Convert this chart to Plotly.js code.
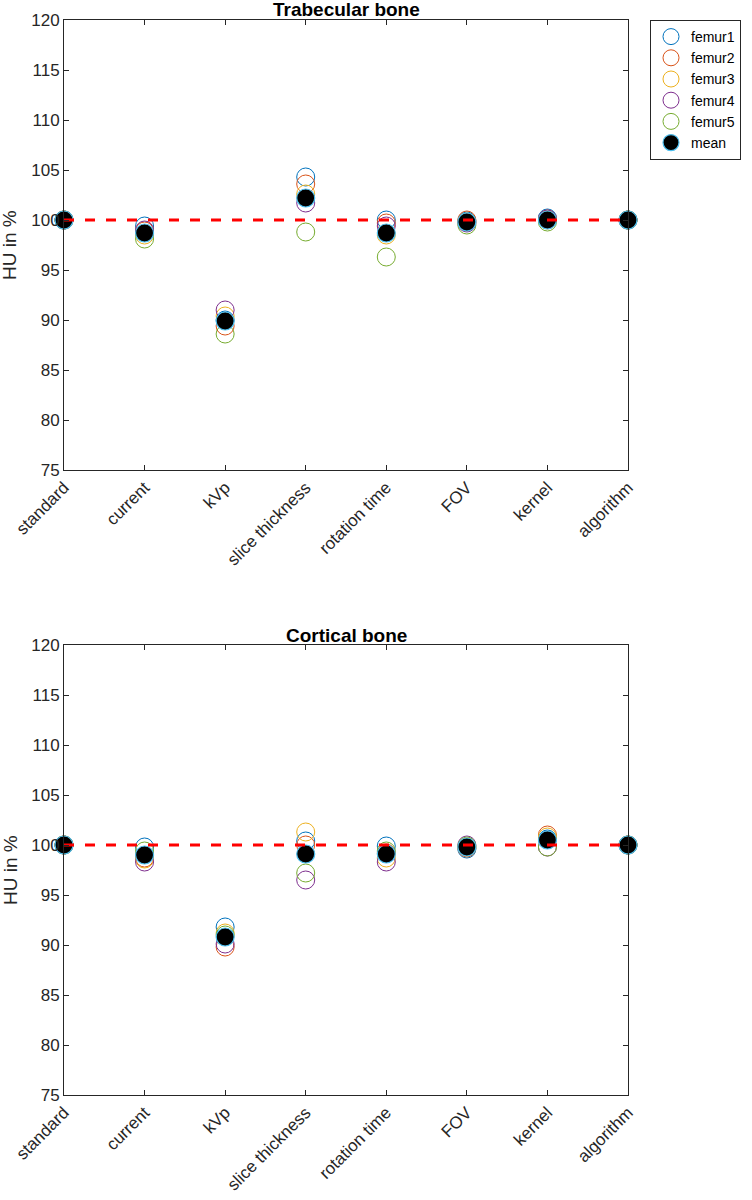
<!DOCTYPE html>
<html>
<head>
<meta charset="utf-8">
<script src="https://cdn.plot.ly/plotly-3.0.1.min.js"></script>
<style>html,body{margin:0;padding:0;background:#fff;}#chart{width:752px;height:1200px;}</style>
</head>
<body>
<div id="chart"></div>
<script>
const categories = ["standard","current","kVp","slice thickness","rotation time","FOV","kernel","algorithm"];
const seriesNames = ["femur1","femur2","femur3","femur4","femur5"];
const seriesColors = ["#0072BD","#D95319","#EDB120","#7E2F8E","#77AC30"];

// Trabecular bone (top)
const trabFemur1 = [100, 99.4, 90.0, 104.3, 100.0, 99.9, 100.2, 100];
const trabFemur2 = [100, 98.9, 89.4, 103.6, 99.7, 100.0, 100.1, 100];
const trabFemur3 = [100, 98.5, 90.4, 102.6, 98.5, 99.8, 100.0, 100];
const trabFemur4 = [100, 99.0, 91.0, 101.7, 99.4, 99.7, 100.1, 100];
const trabFemur5 = [100, 98.1, 88.6, 98.8, 96.3, 99.5, 99.8, 100];
const trabMean   = [100, 98.7, 89.9, 102.2, 98.7, 99.8, 100.0, 100];

// Cortical bone (bottom)
const cortFemur1 = [100, 99.8, 91.8, 100.4, 99.9, 99.6, 100.6, 100];
const cortFemur2 = [100, 98.7, 89.8, 100.0, 99.2, 99.7, 101.0, 100];
const cortFemur3 = [100, 98.6, 91.2, 101.3, 98.7, 99.8, 100.8, 100];
const cortFemur4 = [100, 98.3, 90.1, 96.5, 98.3, 100.0, 99.8, 100];
const cortFemur5 = [100, 99.4, 91.0, 97.2, 99.4, 99.9, 99.8, 100];
const cortMean   = [100, 99.0, 90.8, 99.1, 99.1, 99.8, 100.5, 100];

const referenceLevel = [100, 100];
const yTicks = [75,80,85,90,95,100,105,110,115,120];

const W = 752, H = 1200;
const xIdx = categories.map((c,i)=>i+1);
const FONT = "Liberation Sans, Arial, Helvetica, sans-serif";

const topSeries = [trabFemur1,trabFemur2,trabFemur3,trabFemur4,trabFemur5];
const botSeries = [cortFemur1,cortFemur2,cortFemur3,cortFemur4,cortFemur5];

const traces = [];
function addPanel(series, mean, xa, ya, showLeg) {
  series.forEach((vals, k) => {
    traces.push({
      type: "scatter", mode: "markers", x: xIdx, y: vals, xaxis: xa, yaxis: ya,
      name: seriesNames[k], showlegend: showLeg, cliponaxis: false,
      marker: {symbol: "circle-open", size: 18, color: seriesColors[k], line: {width: 1, color: seriesColors[k]}},
      hoverinfo: "x+y"
    });
  });
  traces.push({
    type: "scatter", mode: "markers", x: xIdx, y: mean, xaxis: xa, yaxis: ya,
    name: "mean", showlegend: showLeg, cliponaxis: false,
    marker: {symbol: "circle", size: 18, color: "#000000", line: {width: 1.2, color: "#4DBEEE"}}
  });
  traces.push({
    type: "scatter", mode: "lines", x: [1, categories.length], y: referenceLevel, xaxis: xa, yaxis: ya,
    showlegend: false, cliponaxis: false, hoverinfo: "skip",
    line: {color: "#FF0000", width: 3, dash: "10px,11px"}
  });
}
addPanel(topSeries, trabMean, "x", "y", true);
addPanel(botSeries, cortMean, "x2", "y2", false);

const px = v => v / W;
const py = v => 1 - v / H;

function xAxis(anchor) {
  return {
    domain: [px(64), px(628)], anchor: anchor, range: [1, categories.length],
    tickmode: "array", tickvals: xIdx, ticktext: categories, tickangle: -45,
    ticks: "inside", ticklen: 5, tickwidth: 1, tickcolor: "#262626",
    showline: true, linecolor: "#262626", linewidth: 1, mirror: "ticks",
    showgrid: false, zeroline: false,
    tickfont: {family: FONT, size: 17, color: "#262626"}
  };
}
function yAxis(anchor, top, bottom) {
  return {
    domain: [py(bottom), py(top)], anchor: anchor, range: [75, 120],
    tickmode: "array", tickvals: yTicks,
    ticks: "inside", ticklen: 5, tickwidth: 1, tickcolor: "#262626",
    showline: true, linecolor: "#262626", linewidth: 1, mirror: "ticks",
    showgrid: false, zeroline: false,
    tickfont: {family: FONT, size: 17, color: "#262626"}
  };
}

const layout = {
  width: W, height: H,
  margin: {l: 0, r: 0, t: 0, b: 0},
  paper_bgcolor: "#ffffff", plot_bgcolor: "#ffffff",
  showlegend: true,
  font: {family: FONT, color: "#262626"},
  xaxis: xAxis("y"),
  yaxis: yAxis("x", 20, 470),
  xaxis2: xAxis("y2"),
  yaxis2: yAxis("x2", 645, 1095),
  legend: {
    x: px(650), y: py(20), xanchor: "left", yanchor: "top",
    bgcolor: "#ffffff", bordercolor: "#262626", borderwidth: 1,
    font: {family: FONT, size: 14, color: "#000000"},
    tracegroupgap: 0
  },
  annotations: [
    {text: "<b>Trabecular bone</b>", xref: "paper", yref: "paper", x: px(346), y: py(10),
     xanchor: "center", yanchor: "middle", showarrow: false, font: {family: FONT, size: 19, color: "#000000"}},
    {text: "<b>Cortical bone</b>", xref: "paper", yref: "paper", x: px(346), y: py(635),
     xanchor: "center", yanchor: "middle", showarrow: false, font: {family: FONT, size: 19, color: "#000000"}},
    {text: "HU in %", xref: "paper", yref: "paper", x: px(10), y: py(245), textangle: -90,
     xanchor: "center", yanchor: "middle", showarrow: false, font: {family: FONT, size: 19, color: "#262626"}},
    {text: "HU in %", xref: "paper", yref: "paper", x: px(10), y: py(870), textangle: -90,
     xanchor: "center", yanchor: "middle", showarrow: false, font: {family: FONT, size: 19, color: "#262626"}}
  ]
};

Plotly.newPlot("chart", traces, layout, {displayModeBar: false, staticPlot: true});
</script>
</body>
</html>
